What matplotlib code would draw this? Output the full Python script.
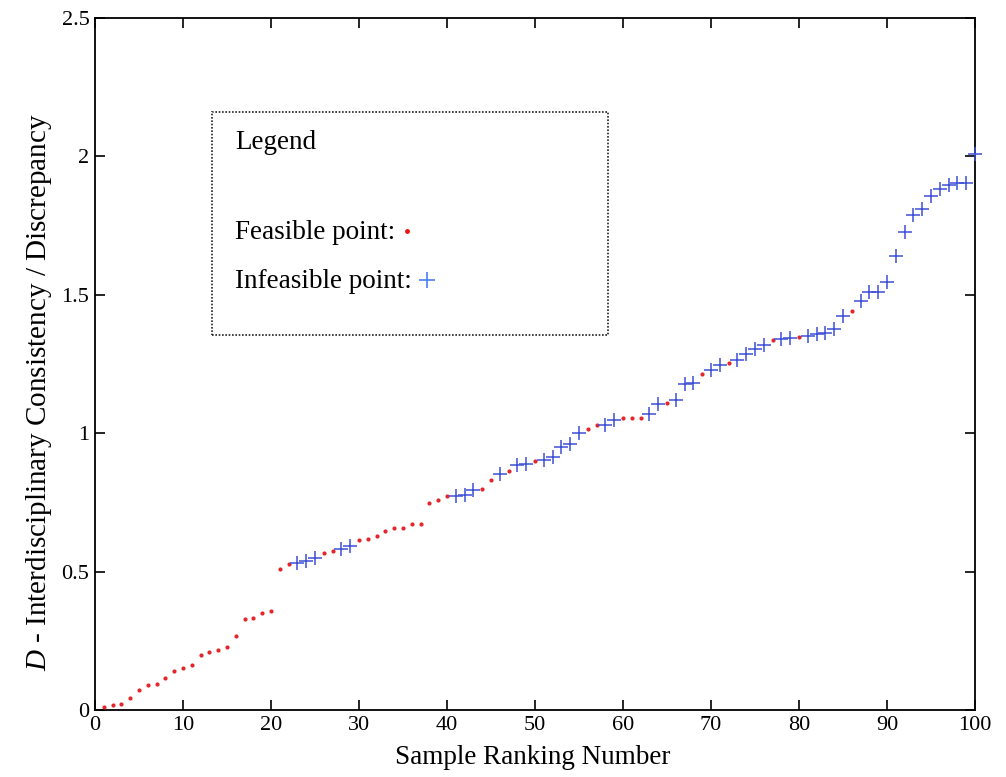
import matplotlib
matplotlib.use("Agg")
import matplotlib.pyplot as plt
from matplotlib.patches import Rectangle

plt.rcParams['font.family'] = ['Liberation Serif', 'DejaVu Serif']
plt.rcParams['mathtext.fontset'] = 'custom'
plt.rcParams['mathtext.rm'] = 'Liberation Serif'
plt.rcParams['mathtext.it'] = 'Liberation Serif:italic'

rank = list(range(1, 101))
D_values = [
    0.010, 0.018, 0.023, 0.044, 0.074, 0.091, 0.095, 0.115, 0.140, 0.152,
    0.163, 0.198, 0.210, 0.217, 0.228, 0.266, 0.329, 0.334, 0.351, 0.358,
    0.510, 0.528, 0.532, 0.538, 0.548, 0.568, 0.576, 0.582, 0.594, 0.614,
    0.617, 0.627, 0.648, 0.656, 0.659, 0.673, 0.673, 0.748, 0.758, 0.772,
    0.775, 0.776, 0.794, 0.799, 0.832, 0.852, 0.864, 0.886, 0.889, 0.900,
    0.904, 0.914, 0.950, 0.962, 1.000, 1.015, 1.030, 1.030, 1.048, 1.054,
    1.054, 1.054, 1.068, 1.104, 1.109, 1.120, 1.178, 1.182, 1.215, 1.227,
    1.247, 1.253, 1.266, 1.286, 1.303, 1.320, 1.336, 1.340, 1.344, 1.348,
    1.352, 1.358, 1.364, 1.375, 1.424, 1.440, 1.477, 1.509, 1.512, 1.548,
    1.639, 1.726, 1.788, 1.812, 1.858, 1.882, 1.898, 1.906, 1.906, 2.010,
]
# F = feasible, I = infeasible
status = list(
    "FFFFFFFFFF"
    "FFFFFFFFFF"
    "FFIIIFFIIF"
    "FFFFFFFFFF"
    "IIIFFIFIIF"
    "IIIIIFFIIF"
    "FFIIFIIIFI"
    "IFIIIIFIIF"
    "IIIIIFIIII"
    "IIIIIIIIII"
)

xticks = [0, 10, 20, 30, 40, 50, 60, 70, 80, 90, 100]
yticks = [0, 0.5, 1, 1.5, 2, 2.5]
ytick_labels = ['0', '0.5', '1', '1.5', '2', '2.5']

red = '#e3262b'
blue = '#3d4fd6'

fig = plt.figure(figsize=(10.06, 7.77), dpi=100)
ax = fig.add_axes([0.0944, 0.0862, 0.8748, 0.8905])

fx = [r for r, s in zip(rank, status) if s == 'F']
fy = [v for v, s in zip(D_values, status) if s == 'F']
ix = [r for r, s in zip(rank, status) if s == 'I']
iy = [v for v, s in zip(D_values, status) if s == 'I']

ax.plot(fx, fy, linestyle='none', marker='o', markersize=3.0,
        color=red, markeredgewidth=0, clip_on=False, zorder=3)
ax.plot(ix, iy, linestyle='none', marker='+', markersize=9.5,
        markeredgewidth=1.1, color=blue, clip_on=False, zorder=3)

ax.set_xlim(0, 100)
ax.set_ylim(0, 2.5)
ax.set_xticks(xticks)
ax.set_yticks(yticks)
ax.set_yticklabels(ytick_labels)
ax.tick_params(direction='in', length=7, width=1.2, top=True, right=True,
               labelsize=16, pad=4)
for sp in ax.spines.values():
    sp.set_linewidth(1.3)

ax.set_xlabel('Sample Ranking Number', fontsize=19.5)
ax.set_ylabel(r'$D$ - Interdisciplinary Consistency / Discrepancy',
              fontsize=21)
ax.xaxis.set_label_coords(0.497, -0.05)
ax.yaxis.set_label_coords(-0.047, 0.46)

# Legend box drawn as text
box = Rectangle((0.133, 0.542), 0.450, 0.322, transform=ax.transAxes,
                fill=False, linestyle=(0, (1, 1)), linewidth=1.2,
                edgecolor='#222222', zorder=4)
ax.add_patch(box)
ax.text(0.159, 0.820, 'Legend', transform=ax.transAxes, fontsize=19.5,
        va='center', ha='left')
ax.text(0.159, 0.690, 'Feasible point:', transform=ax.transAxes,
        fontsize=19.5, va='center', ha='left')
ax.text(0.159, 0.620, 'Infeasible point:', transform=ax.transAxes,
        fontsize=19.5, va='center', ha='left')
ax.plot([0.355], [0.692], transform=ax.transAxes, marker='o',
        markersize=3.5, color='#ee1111', markeredgewidth=0, clip_on=False)
ax.plot([0.377], [0.622], transform=ax.transAxes, marker='+',
        markersize=12, markeredgewidth=1.2, color='#4a7ef0', clip_on=False)

fig.savefig('out.png', dpi=100)
